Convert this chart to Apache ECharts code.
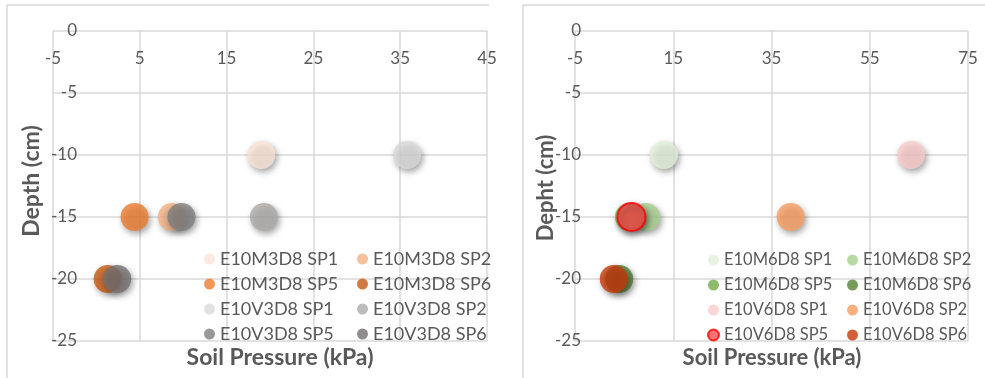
<!DOCTYPE html>
<html>
<head>
<meta charset="utf-8">
<script src="https://cdn.jsdelivr.net/npm/echarts@6/dist/echarts.min.js"></script>
<style>
  html, body { margin: 0; padding: 0; background: #ffffff; }
  #chart { width: 985px; height: 378px; }
</style>
</head>
<body>
<div id="chart"></div>
<script>
// Soil pressure (kPa) measured by each sensor, and the sensor depth (cm)
const leftNames = ['E10M3D8 SP1', 'E10M3D8 SP2', 'E10M3D8 SP5', 'E10M3D8 SP6',
                   'E10V3D8 SP1', 'E10V3D8 SP2', 'E10V3D8 SP5', 'E10V3D8 SP6'];
const leftPressure = [19.0, 8.7, 4.4, 1.3, 35.8, 19.3, 9.8, 2.4];
const leftDepth = [-10, -15, -15, -20, -10, -15, -15, -20];
const leftColors = ['#fbe5d6', '#f4b183', '#ed7d31', '#c55a11',
                    '#d9d9d9', '#aeaaaa', '#7f7f7f', '#767171'];

const rightNames = ['E10M6D8 SP1', 'E10M6D8 SP2', 'E10M6D8 SP5', 'E10M6D8 SP6',
                    'E10V6D8 SP1', 'E10V6D8 SP2', 'E10V6D8 SP5', 'E10V6D8 SP6'];
const rightPressure = [13.1, 9.5, 6.0, 4.0, 63.4, 38.9, 6.5, 2.9];
const rightDepth = [-10, -15, -15, -20, -10, -15, -15, -20];
const rightColors = ['#e2f0d9', '#a9d18e', '#70ad47', '#548235',
                     '#fbcaca', '#f89d62', '#ff5050', '#c5390a'];

// Axis tick values
const leftXTicks = [-5, 5, 15, 25, 35, 45];
const rightXTicks = [-5, 15, 35, 55, 75];
const depthTicks = [0, -5, -10, -15, -20, -25];

const FONT = 'Lato, "Open Sans", sans-serif';
const GRID_COLOR = '#d9d9d9';
const TEXT_COLOR = '#595959';

const chart = echarts.init(document.getElementById('chart'), null, { renderer: 'canvas' });

// Pressure axis: the depth axis crosses at 0 (top edge), so labels sit just under it
function xAxisFor(gridIndex, ticks, fontSize) {
  const min = ticks[0], max = ticks[ticks.length - 1];
  return {
    type: 'value', gridIndex, min, max, interval: ticks[1] - ticks[0],
    position: 'top',
    axisLine: { show: false },
    axisTick: { show: false, customValues: ticks },
    axisLabel: { customValues: ticks, inside: true, margin: 19, color: TEXT_COLOR, fontFamily: FONT, fontSize },
    splitLine: { show: true, lineStyle: { color: GRID_COLOR, width: 1.5 } }
  };
}

// Depth axis: labels right-aligned left of the pressure = 0 line
function yAxisFor(gridIndex, fontSize, margin) {
  return {
    type: 'value', gridIndex, min: -25, max: 0, interval: 5,
    position: 'left',
    axisLine: { show: false },
    axisTick: { show: false, customValues: depthTicks },
    axisLabel: { customValues: depthTicks, inside: true, align: 'right', margin, color: TEXT_COLOR, fontFamily: FONT, fontSize },
    splitLine: { show: true, lineStyle: { color: GRID_COLOR, width: 1.5 } }
  };
}

function buildSeries(names, xs, ys, colors, axisIndex) {
  return names.map((name, i) => {
    const itemStyle = {
      color: colors[i],
      shadowBlur: 6, shadowOffsetX: 2, shadowOffsetY: 3,
      shadowColor: 'rgba(0,0,0,0.45)'
    };
    if (name === 'E10V6D8 SP5') {
      itemStyle.borderColor = '#ff0000';
      itemStyle.borderWidth = 2;
    }
    return {
      type: 'scatter', name,
      xAxisIndex: axisIndex, yAxisIndex: axisIndex,
      symbol: 'circle', symbolSize: 28,
      data: [[xs[i], ys[i]]],
      itemStyle,
      emphasis: { disabled: true }
    };
  });
}

function legendColumn(data, left, top, fontSize) {
  return {
    data, orient: 'vertical', left, top,
    icon: 'circle', itemWidth: 11, itemHeight: 11, itemGap: 5,
    selectedMode: false,
    itemStyle: { shadowBlur: 0, shadowOffsetX: 0, shadowOffsetY: 0, shadowColor: 'rgba(0,0,0,0)' },
    textStyle: { fontFamily: FONT, fontSize, color: TEXT_COLOR, lineHeight: 20 }
  };
}

function pick(names, idx) { return idx.map(i => names[i]); }

const option = {
  animation: false,
  backgroundColor: '#ffffff',
  grid: [
    { left: 53, top: 31, width: 434, height: 310 },
    { left: 575, top: 31, width: 393, height: 310 }
  ],
  xAxis: [xAxisFor(0, leftXTicks, 17), xAxisFor(1, rightXTicks, 17)],
  yAxis: [yAxisFor(0, 17, 24), yAxisFor(1, 17, 6)],
  legend: [
    legendColumn(pick(leftNames, [0, 2, 4, 6]), 199, 244, 18),
    legendColumn(pick(leftNames, [1, 3, 5, 7]), 352, 244, 18),
    legendColumn(pick(rightNames, [0, 2, 4, 6]), 702, 245, 16.5),
    legendColumn(pick(rightNames, [1, 3, 5, 7]), 842, 245, 16.5)
  ],
  series: [
    ...buildSeries(leftNames, leftPressure, leftDepth, leftColors, 0),
    ...buildSeries(rightNames, rightPressure, rightDepth, rightColors, 1)
  ],
  graphic: [
    // panel frames
    { type: 'line', shape: { x1: 7, y1: 5, x2: 489, y2: 5 }, style: { stroke: GRID_COLOR, lineWidth: 1.5 } },
    { type: 'line', shape: { x1: 7, y1: 5, x2: 7, y2: 378 }, style: { stroke: GRID_COLOR, lineWidth: 1.5 } },
    { type: 'line', shape: { x1: 523, y1: 5, x2: 985, y2: 5 }, style: { stroke: GRID_COLOR, lineWidth: 1.5 } },
    { type: 'line', shape: { x1: 523, y1: 5, x2: 523, y2: 378 }, style: { stroke: GRID_COLOR, lineWidth: 1.5 } },
    // axis titles
    { type: 'text', x: 280, y: 358, style: { text: 'Soil Pressure (kPa)', fill: TEXT_COLOR, font: 'bold 23px ' + FONT, textAlign: 'center', textVerticalAlign: 'middle' } },
    { type: 'text', x: 772, y: 358, style: { text: 'Soil Pressure (kPa)', fill: TEXT_COLOR, font: 'bold 22px ' + FONT, textAlign: 'center', textVerticalAlign: 'middle' } },
    { type: 'text', x: 32, y: 181, rotation: Math.PI / 2, style: { text: 'Depth (cm)', fill: TEXT_COLOR, font: 'bold 23px ' + FONT, textAlign: 'center', textVerticalAlign: 'middle' } },
    { type: 'text', x: 546, y: 188, rotation: Math.PI / 2, style: { text: 'Depht (cm)', fill: TEXT_COLOR, font: 'bold 22px ' + FONT, textAlign: 'center', textVerticalAlign: 'middle' } }
  ]
};

chart.setOption(option);
</script>
</body>
</html>
